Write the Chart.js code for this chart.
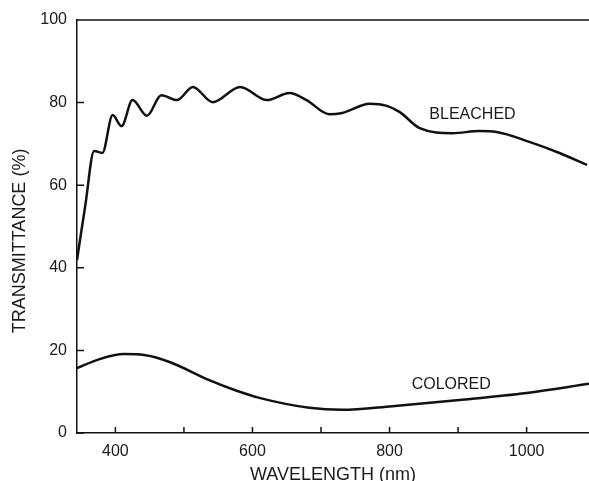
<!DOCTYPE html>
<html>
<head>
<meta charset="utf-8">
<script src="https://cdn.jsdelivr.net/npm/chart.js@4/dist/chart.umd.min.js"></script>
<style>
    html, body { margin: 0; padding: 0; background: #fff; }
    #box { width: 589px; height: 481px; }
</style>
</head>
<body>
<div id="box"><canvas id="myChart" width="589" height="481"></canvas></div>
<script>
// values
const bleachedNm = [344, 356, 369, 381, 396, 409, 425, 446, 467, 490, 513, 542, 582, 621, 654, 679, 712, 731, 771, 796, 815, 844, 892, 931, 956, 1004, 1048, 1088]
const bleachedT  = [41.9, 55, 68.3, 67.8, 77, 74.3, 80.6, 76.8, 81.8, 80.6, 83.8, 80.1, 83.8, 80.6, 82.3, 80.6, 77.2, 77.5, 79.7, 79.2, 77.7, 73.8, 72.6, 73.1, 72.9, 70.5, 67.8, 64.9]
const coloredNm = [344, 377, 413, 442, 479, 537, 574, 610, 683, 731, 804, 902, 1000, 1091]
const coloredT  = [15.7, 17.9, 19.1, 18.9, 17.2, 12.8, 10.4, 8.5, 6.1, 5.6, 6.5, 8.0, 9.7, 11.9]
const xTicks = [400, 500, 600, 700, 800, 900, 1000]
const xLabels = [400, 600, 800, 1000]
const yTicks = [0, 20, 40, 60, 80, 100]

const ink = '#111'
const family = 'Liberation Sans, Arial, sans-serif'
const font = { family: family, size: 16 }

const toPoints = (xs, ys) => xs.map((x, i) => ({ x: x, y: ys[i] }))

// inward ticks, top border, y title and curve labels
const decor = {
    id: 'decor',
    afterDraw(chart) {
        const { ctx, chartArea, scales } = chart
        ctx.save()
        ctx.strokeStyle = ink
        ctx.lineWidth = 1.5
        ctx.beginPath()
        ctx.moveTo(chartArea.left, chartArea.top)
        ctx.lineTo(chartArea.right, chartArea.top)
        xTicks.forEach(v => {
            let px = scales.x.getPixelForValue(v)
            ctx.moveTo(px, chartArea.bottom)
            ctx.lineTo(px, chartArea.bottom - 6)
        })
        yTicks.forEach(v => {
            let py = scales.y.getPixelForValue(v)
            ctx.moveTo(chartArea.left, py)
            ctx.lineTo(chartArea.left + 7, py)
        })
        ctx.stroke()

        ctx.fillStyle = '#1a1a1a'
        ctx.font = '16px ' + family
        ctx.textAlign = 'center'
        ctx.textBaseline = 'middle'
        ctx.fillText('BLEACHED', scales.x.getPixelForValue(921), scales.y.getPixelForValue(77.2))
        ctx.fillText('COLORED', scales.x.getPixelForValue(890), scales.y.getPixelForValue(11.6))

        ctx.font = '18px ' + family
        ctx.translate(20, scales.y.getPixelForValue(46.5))
        ctx.rotate(-Math.PI / 2)
        ctx.fillText('TRANSMITTANCE (%)', 0, 0)
        ctx.restore()
    }
}

const lineStyle = {
    borderColor: ink,
    borderWidth: 2.5,
    pointRadius: 0,
    fill: false,
    cubicInterpolationMode: 'monotone',
}

new Chart(document.getElementById('myChart').getContext('2d'), {
    type: 'line',
    data: {
        datasets: [
            { label: 'BLEACHED', data: toPoints(bleachedNm, bleachedT), ...lineStyle },
            { label: 'COLORED', data: toPoints(coloredNm, coloredT), ...lineStyle },
        ]
    },
    options: {
        responsive: false,
        animation: false,
        layout: { padding: { top: 20, right: 0, left: 0, bottom: 0 } },
        plugins: {
            legend: { display: false },
            tooltip: { enabled: false },
        },
        scales: {
            x: {
                type: 'linear',
                min: 344,
                max: 1091,
                afterBuildTicks: scale => { scale.ticks = xTicks.map(v => ({ value: v })) },
                afterFit: scale => { scale.height = 48 },
                grid: { display: false, drawTicks: false, tickLength: 0 },
                border: { color: ink, width: 1.5 },
                ticks: {
                    color: '#1a1a1a',
                    font: font,
                    padding: 9,
                    maxRotation: 0,
                    autoSkip: false,
                    callback: v => xLabels.includes(v) ? String(v) : '',
                },
                title: {
                    display: true,
                    text: 'WAVELENGTH (nm)',
                    color: '#1a1a1a',
                    font: { family: family, size: 18 },
                    padding: { top: 0, bottom: -5 },
                },
            },
            y: {
                min: 0,
                max: 100,
                afterBuildTicks: scale => { scale.ticks = yTicks.map(v => ({ value: v })) },
                afterFit: scale => { scale.width = 77 },
                grid: { display: false, drawTicks: false, tickLength: 0 },
                border: { color: ink, width: 1.5 },
                ticks: {
                    color: '#1a1a1a',
                    font: font,
                    padding: 10,
                },
                title: { display: false },
            },
        },
    },
    plugins: [decor],
})
</script>
</body>
</html>
